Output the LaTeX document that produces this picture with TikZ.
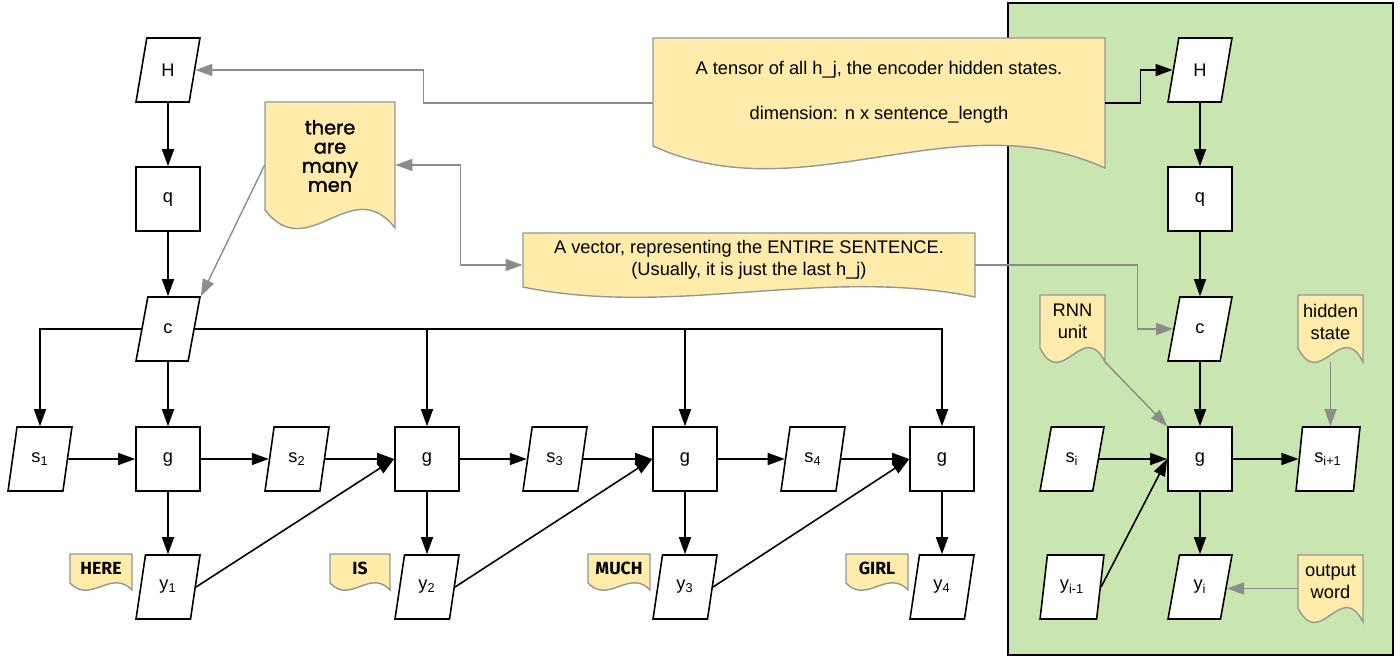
\documentclass[tikz,border=0pt]{standalone}
\usepackage{fontspec}
\setmainfont{Liberation Sans}
\newfontfamily\manfont[FakeBold=1.6]{Poppins}
\newfontfamily\wordfont{Fira Sans}
\usetikzlibrary{shapes.geometric,arrows.meta,calc}
\definecolor{greenbg}{RGB}{202,230,176}
\definecolor{notefill}{RGB}{255,236,170}
\definecolor{noteline}{RGB}{150,150,150}
\definecolor{greyline}{RGB}{140,140,140}
\tikzset{
  lbl/.style={font=\fontsize{10.4}{12.5}\selectfont},
  para/.style={trapezium, trapezium left angle=75, trapezium right angle=105,
    trapezium stretches=true, minimum width=1.28cm, minimum height=1.28cm,
    inner sep=0pt, draw=black, fill=white, line width=0.9pt, lbl},
  sq/.style={rectangle, draw=black, fill=white, line width=0.9pt,
    minimum size=1.28cm, inner sep=0pt, lbl},
  blk/.style={draw=black, line width=0.9pt, -{Triangle[length=0.34cm,width=0.24cm]}},
  gry/.style={draw=greyline, line width=0.8pt, -{Triangle[length=0.34cm,width=0.24cm,fill=greyline]}},
  notebox/.style={draw=none, rectangle, inner sep=0pt},
  notetext/.style={align=center, inner sep=0pt, lbl},
  noteshape/.style={fill=notefill, draw=noteline, line width=0.8pt},
  wordtext/.style={font=\wordfont\bfseries\fontsize{10}{11}\selectfont},
  mantext/.style={font=\manfont\fontsize{11}{10.9}\selectfont},
}
% #1 name, #2 x left, #3 y top, #4 x right, #5 y of left end of wave, #6 wave depth, #7 text style, #8 text
\newcommand{\docnote}[8]{%
  \pgfmathsetmacro{\nw}{#4-#2}%
  \pgfmathsetmacro{\nxa}{#2+\nw/3}%
  \pgfmathsetmacro{\nxb}{#2+2*\nw/3}%
  \pgfmathsetmacro{\nya}{#5+3.11*#6}%
  \pgfmathsetmacro{\nyb}{#5-2.11*#6}%
  \pgfmathsetmacro{\nyr}{#5+#6}%
  \pgfmathsetmacro{\ncx}{(#2+#4)/2}%
  \pgfmathsetmacro{\ncy}{(#3+#5+#6)/2}%
  \pgfmathsetmacro{\nty}{(#3+#5)/2}%
  \pgfmathsetmacro{\nwd}{\nw*0.02}%
  \pgfmathsetmacro{\nht}{(#5+#6-#3)*0.02}%
  \path[noteshape] (#2,#3) -- (#4,#3) -- (#4,\nyr) .. controls (\nxb,\nyb) and (\nxa,\nya) .. (#2,#5) -- cycle;
  \node[notebox, minimum width=\nwd cm, minimum height=\nht cm] (#1) at (\ncx,\ncy) {};
  \node[notetext, #7] (#1-t) at (\ncx,\nty) {#8};
}
\begin{document}
\begin{tikzpicture}[x=0.02cm, y=-0.02cm]
\useasboundingbox (0,0) rectangle (1400,662);
% green panel
\draw[fill=greenbg, line width=0.9pt] (1008,3) rectangle (1393,655);

% notes
\docnote{tensor}{653}{38}{1105}{146}{22}{}{A tensor of all h\_j, the encoder hidden states.\\[13pt]dimension: n x sentence\_length}
\docnote{vec}{523}{233}{975}{287}{10}{}{A vector, representing the ENTIRE SENTENCE.\\(Usually, it is just the last h\_j)}
\docnote{man}{265}{102}{395}{210}{18}{mantext}{there\\are\\many\\men}
\docnote{rnn}{1040}{295}{1105}{348}{14}{}{RNN\\unit}
\docnote{hid}{1298}{295}{1363}{348}{14}{}{hidden\\state}
\docnote{out}{1298}{555}{1363}{608}{14}{}{output\\word}
\docnote{w1}{70}{554}{132}{583}{7}{wordtext}{HERE}
\docnote{w2}{330}{554}{390}{583}{7}{wordtext}{IS}
\docnote{w3}{588}{554}{650}{583}{7}{wordtext}{MUCH}
\docnote{w4}{846}{554}{908}{583}{7}{wordtext}{GIRL}

% left nodes
\node[para] (H) at (168,70) {H};
\node[sq] (q) at (168,199) {q};
\node[para] (c) at (168,329) {c};
\node[para] (s1) at (40,459) {s\textsubscript{1}};
\node[sq] (g1) at (168,459) {g};
\node[para] (s2) at (297,459) {s\textsubscript{2}};
\node[sq] (g2) at (427,459) {g};
\node[para] (s3) at (555,459) {s\textsubscript{3}};
\node[sq] (g3) at (685,459) {g};
\node[para] (s4) at (813,459) {s\textsubscript{4}};
\node[sq] (g4) at (942,459) {g};
\node[para] (y1) at (168,587) {y\textsubscript{1}};
\node[para] (y2) at (427,587) {y\textsubscript{2}};
\node[para] (y3) at (685,587) {y\textsubscript{3}};
\node[para] (y4) at (942,587) {y\textsubscript{4}};

% right nodes
\node[para] (H2) at (1200,70) {H};
\node[sq] (q2) at (1200,199) {q};
\node[para] (c2) at (1200,329) {c};
\node[sq] (g) at (1200,459) {g};
\node[para] (si) at (1072,459) {s\textsubscript{i}};
\node[para] (sip) at (1328,459) {s\textsubscript{i+1}};
\node[para] (yim) at (1072,587) {y\textsubscript{i-1}};
\node[para] (yi) at (1200,587) {y\textsubscript{i}};

% black connectors (left)
\draw[blk] (H) -- (q);
\draw[blk] (q) -- (c);
\draw[blk] (c) -- (g1);
\draw[blk] (c.west) -| (s1.north);
\draw[blk] (c.east) -| (g2.north);
\draw[blk] (c.east) -| (g3.north);
\draw[blk] (c.east) -| (g4.north);
\draw[blk] (s1) -- (g1);
\draw[blk] (g1) -- (s2);
\draw[blk] (s2) -- (g2);
\draw[blk] (g2) -- (s3);
\draw[blk] (s3) -- (g3);
\draw[blk] (g3) -- (s4);
\draw[blk] (s4) -- (g4);
\draw[blk] (g1) -- (y1);
\draw[blk] (g2) -- (y2);
\draw[blk] (g3) -- (y3);
\draw[blk] (g4) -- (y4);
\draw[blk] (y1.east) -- (g2.west);
\draw[blk] (y2.east) -- (g3.west);
\draw[blk] (y3.east) -- (g4.west);

% black connectors (right)
\draw[blk] (tensor.east) -- ++(35,0) |- (H2.west);
\draw[blk] (H2) -- (q2);
\draw[blk] (q2) -- (c2);
\draw[blk] (c2) -- (g);
\draw[blk] (si) -- (g);
\draw[blk] (g) -- (sip);
\draw[blk] (g) -- (yi);
\draw[blk] (yim.east) -- (g.west);

% grey connectors
\draw[gry] (tensor.west) -- ++(-229,0) |- (H.east);
\draw[gry] (man.west) -- (c.top right corner);
\draw[gry, {Triangle[length=0.34cm,width=0.24cm,fill=greyline]}-{Triangle[length=0.34cm,width=0.24cm,fill=greyline]}] (man.east) -- ++(65,0) |- (vec.west);
\draw[gry] (vec.east) -- ++(162,0) |- (c2.west);
\draw[gry] (rnn.south east) -- (g.north west);
\draw[gry] (hid.south) -- (hid.south |- sip.north);
\draw[gry] (out.west) -- (out.west -| yi.east);
\end{tikzpicture}
\end{document}
